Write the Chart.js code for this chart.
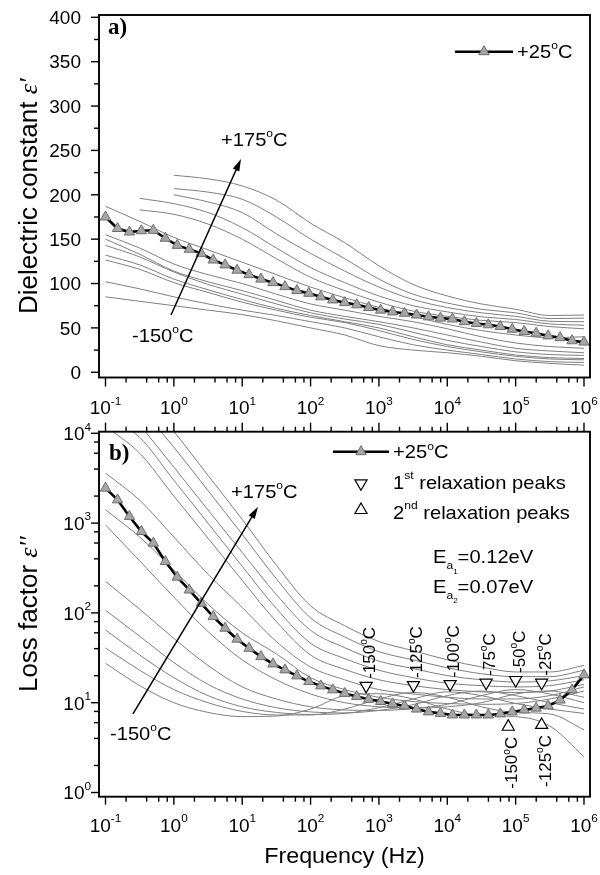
<!DOCTYPE html>
<html>
<head>
<meta charset="utf-8">
<script src="https://cdn.jsdelivr.net/npm/chart.js@4.4.1/dist/chart.umd.min.js"></script>
<style>
  html, body { margin: 0; padding: 0; background: #fff; }
  body { width: 600px; height: 875px; position: relative; overflow: hidden; }
  canvas { position: absolute; left: 0; }
  #c1 { top: 0; }
  #c2 { top: 420px; }
</style>
</head>
<body>
<canvas id="c1" width="600" height="420"></canvas>
<canvas id="c2" width="600" height="455"></canvas>
<script>
const FONT = '"Liberation Sans", Arial, Helvetica, sans-serif';
const SERIF = '"Liberation Serif", "Times New Roman", serif';
const SX = 1.06;

// frequency grid of the thin curves (half decades) and of the +25°C markers
const freqGrid = [0.1, 0.316, 1, 3.16, 10, 31.6, 100, 316, 1000, 3160, 10000, 31600, 100000, 316000, 1000000];
const freqMarkers = [0.1, 0.15, 0.224, 0.335, 0.501, 0.75, 1.12, 1.68, 2.51, 3.76, 5.62, 8.41, 12.6, 18.8, 28.2, 42.2,
  63.1, 94.4, 141, 211, 316, 473, 708, 1059, 1585, 2371, 3548, 5309, 7943, 11885, 17783, 26607, 39811, 59566,
  89125, 133352, 199526, 298538, 446684, 668344, 1000000];

// a) dielectric constant
const epsRe25 = [175, 162, 158, 159.5, 160, 151, 143, 138.6, 134, 126.5, 121, 115, 110, 105, 101, 96.5, 92, 89, 85,
  81.5, 78.5, 76, 73, 70, 68, 66.5, 64.5, 62.5, 61, 60, 57, 55, 53.5, 51.5, 48.5, 46, 44, 41, 39, 35.5, 34];
const epsRe175 = [null, null, 222, 218, 210, 194, 168, 146, 120, 99, 86, 77, 71, 64, 64.5];
const epsRe150 = [null, null, 207, 203, 195, 175, 150, 128, 105, 88, 78, 71, 67, 60.5, 61];
const epsRe125 = [null, null, 200, 192, 180, 156, 134, 114, 96, 82, 73, 67, 63, 57.5, 57];
const epsRe100 = [null, 196, 190, 180, 163, 140, 118, 101, 86, 75, 68, 62.5, 59.5, 54.5, 53];
const epsRe75 = [null, 183, 178, 167, 150, 128, 107, 92, 79, 69, 63, 58.5, 56, 51.5, 49];
const epsRe50 = [187, 170, 152, 138, 124, 110, 96, 84, 73, 63, 54, 47, 42, 39, 40];
const epsRe0 = [155, 140, 122, 110, 100, 88, 77, 70, 63, 57, 49, 40, 33, 29, 27];
const epsReM25 = [150, 133, 114, 102, 92, 81, 70, 63, 57, 50, 42, 34, 27, 24, 22];
const epsReM50 = [143, 130, 113, 99, 88, 77, 67, 60, 54, 45, 36, 29, 23, 20, 19];
const epsReM75 = [132, 121, 105, 93, 82, 72, 64, 57, 50, 40, 31, 25, 19.5, 16.5, 15.5];
const epsReM100 = [126.5, 116, 101, 90, 79, 70, 62, 56, 47, 37, 29, 23, 18, 15, 14];
const epsReM125 = [102, 94, 85, 77, 70, 64, 57, 50, 40, 31, 25, 20, 15, 12, 11];
const epsReM150 = [85, 80, 75, 70, 65, 58, 50, 42, 30, 25, 22, 18, 13, 10, 8];

// b) loss factor
const epsIm25 = [2450, 1815, 1183, 806, 598, 373, 250, 180, 128, 91, 67.5, 51, 40.4, 32.6, 27, 23.2, 19.9, 17.2,
  15.4, 13.9, 12.7, 11.7, 10.9, 10.3, 9.7, 9.2, 8.5, 7.9, 7.6, 7.3, 7.3, 7.3, 7.3, 7.5, 7.9, 8.3, 8.7, 9.2, 10.7, 13.9, 20.4];
const epsImM150 = [27.5, 15.5, 10, 7.8, 7, 7.1, 8.5, 12, 12.6, 11, 8.5, 7.2, 7, 5.5, 2.5];
const epsImM125 = [40.7, 23, 14, 10, 8, 7.3, 7.3, 8.5, 11, 13, 11.5, 9, 7.8, 7.5, 5];
const epsImM100 = [64.6, 34, 19, 12, 9, 7.8, 7.4, 7.6, 8.8, 11, 13.2, 12, 9.8, 8.5, 7.6];
const epsImM75 = [107, 55, 28, 16, 11, 8.8, 7.9, 7.7, 8.2, 9.5, 12, 13.5, 12, 10, 8.5];
const epsImM50 = [224, 110, 52, 26, 15, 11, 9, 8.3, 8.2, 8.6, 9.6, 12, 14, 12.5, 10];
const epsImM25 = [955, 380, 150, 62, 30, 18, 12.5, 10, 9, 8.7, 9, 10, 12.5, 13.5, 11.5];
const epsIm0 = [1410, 700, 300, 125, 60, 35, 19, 14, 11.5, 10.3, 9.8, 9.6, 9.8, 11, 13.5];
const epsIm50 = [3600, 1800, 700, 270, 115, 48, 25, 18, 14, 12.5, 11.5, 11, 11, 12, 15];
const epsIm75 = [12000, 6000, 2000, 680, 230, 80, 34, 23.5, 18, 15.5, 14, 13.2, 13, 13.5, 16];
const epsIm100 = [16000, 9000, 3000, 1000, 330, 112, 46, 31, 23, 19, 16.5, 15.5, 15, 15.5, 18];
const epsIm125 = [null, 12500, 4200, 1400, 470, 160, 64, 41, 29, 24, 20, 18, 17, 17.5, 20];
const epsIm150 = [null, 20000, 7000, 2300, 750, 240, 88, 54, 37, 30, 24.5, 21, 19.5, 19.5, 23];
const epsIm175 = [null, 30000, 10500, 3400, 1100, 340, 120, 72, 48, 38, 30, 25, 22, 22, 26];

// relaxation peaks
const peak1Freq = [650, 3200, 11000, 37000, 100000, 240000];
const peak1Val = [15.4, 15.7, 16.1, 16.7, 17.9, 16.7];
const peak1Temp = ['-150', '-125', '-100', '-75', '-50', '-25'];
const peak2Freq = [78000, 240000];
const peak2Val = [5.4, 5.65];
const peak2Temp = ['-150', '-125'];

// axis ticks
const decades = [-1, 0, 1, 2, 3, 4, 5, 6];
const epsReTicks = [0, 50, 100, 150, 200, 250, 300, 350, 400];
const epsImDecades = [0, 1, 2, 3, 4];

const X_MIN = 0.08033, X_MAX = 1.2241e6;

Chart.defaults.font.family = FONT;

const pts = (xs, ys) => xs.map((x, i) => ({ x, y: ys[i] }));
const gray = ys => ({ data: pts(freqGrid, ys), borderColor: '#7f7f7f', borderWidth: 1, pointRadius: 0, cubicInterpolationMode: 'monotone' });
const main = ys => ({ data: pts(freqMarkers, ys), borderColor: '#000', borderWidth: 2.6, pointStyle: 'triangle', pointRadius: 6,
  pointBackgroundColor: '#a6a6a6', pointBorderColor: '#6e6e6e', pointBorderWidth: 1 });
const peaks = (fs, vs, rot) => ({ data: pts(fs, vs), showLine: false, pointStyle: 'triangle', pointRotation: rot, pointRadius: 7,
  pointBackgroundColor: '#fff', pointBorderColor: '#000', pointBorderWidth: 1.2 });

// text helpers
function rich(ctx, parts, x, y, size, align, sx) {
  sx = sx || SX;
  const fonts = parts.map(p => `${p.style || ''} ${size * (p.s || 1)}px ${p.f || FONT}`);
  const ws = parts.map((p, i) => { ctx.font = fonts[i]; return ctx.measureText(p.t).width * sx; });
  const total = ws.reduce((a, b) => a + b, 0);
  let cx = align === 'center' ? x - total / 2 : align === 'right' ? x - total : x;
  ctx.textAlign = 'left';
  ctx.textBaseline = 'alphabetic';
  parts.forEach((p, i) => {
    ctx.font = fonts[i];
    ctx.save();
    ctx.translate(cx, y + (p.dy || 0) * size);
    ctx.scale(sx, 1);
    ctx.fillText(p.t, 0, 0);
    ctx.restore();
    cx += ws[i];
  });
  return total;
}
function richRot(ctx, parts, x, y, size, align) {
  ctx.save();
  ctx.translate(x, y);
  ctx.rotate(-Math.PI / 2);
  rich(ctx, parts, 0, 0, size, align, 1);
  ctx.restore();
}
const deg = s => [{ t: s }, { t: 'o', s: 0.6, dy: -0.45 }, { t: 'C' }];
const pow10 = e => [{ t: '10' }, { t: e < 0 ? '-' + (-e) : String(e), s: 0.62, dy: -0.5 }];

function seg(ctx, x1, y1, x2, y2) { ctx.beginPath(); ctx.moveTo(x1, y1); ctx.lineTo(x2, y2); ctx.stroke(); }
function tri(ctx, x, y, r, down, fill, stroke, lw) {
  const s = down ? -1 : 1;
  ctx.beginPath();
  ctx.moveTo(x, y - s * r);
  ctx.lineTo(x + 0.866 * r, y + s * r / 2);
  ctx.lineTo(x - 0.866 * r, y + s * r / 2);
  ctx.closePath();
  ctx.fillStyle = fill; ctx.fill();
  ctx.strokeStyle = stroke; ctx.lineWidth = lw; ctx.stroke();
}
function arrow(ctx, x1, y1, x2, y2) {
  const a = Math.atan2(y2 - y1, x2 - x1), L = 12, W = 3.5, c = Math.cos(a), s = Math.sin(a);
  ctx.lineWidth = 1.5;
  seg(ctx, x1, y1, x2 - L * 0.8 * c, y2 - L * 0.8 * s);
  ctx.beginPath();
  ctx.moveTo(x2, y2);
  ctx.lineTo(x2 - L * c + W * s, y2 - L * s - W * c);
  ctx.lineTo(x2 - L * c - W * s, y2 - L * s + W * c);
  ctx.closePath();
  ctx.fill();
}
function xTicks(ctx, xs, yLine, dir, maj, min) {
  decades.forEach(e => [1, 2, 4, 6, 8].forEach(m => {
    if (e === 6 && m > 1) return;
    const px = xs.getPixelForValue(m * Math.pow(10, e));
    seg(ctx, px, yLine, px, yLine + dir * (m === 1 ? maj : min));
  }));
}
function legendMain(ctx, x1, x2, y) {
  ctx.strokeStyle = '#000'; ctx.lineWidth = 2.6;
  seg(ctx, x1, y, x2, y);
  tri(ctx, (x1 + x2) / 2, y, 6, false, '#a6a6a6', '#6e6e6e', 1);
  ctx.fillStyle = '#000'; ctx.strokeStyle = '#000';
}

const decoTop = {
  id: 'decoTop',
  afterDraw(chart) {
    const { ctx, chartArea: a, scales: { x, y } } = chart;
    ctx.save();
    ctx.strokeStyle = '#000'; ctx.fillStyle = '#000';
    ctx.lineWidth = 1.9;
    ctx.strokeRect(a.left, a.top, a.right - a.left, a.bottom - a.top);
    ctx.lineWidth = 1.4;
    xTicks(ctx, x, a.bottom, 1, 9, 5);
    for (let v = 0; v <= 400; v += 25) {
      const py = y.getPixelForValue(v);
      seg(ctx, a.left, py, a.left - (v % 50 ? 5 : 8), py);
    }
    epsReTicks.forEach(v => rich(ctx, [{ t: String(v) }], a.left - 18, y.getPixelForValue(v) + 6.8, 19, 'right', 1));
    decades.forEach(e => rich(ctx, pow10(e), x.getPixelForValue(Math.pow(10, e)), 414, 19, 'center', 1));
    richRot(ctx, [{ t: 'Dielectric constant ' }, { t: "\u03B5'", f: SERIF, style: 'italic' }], 37, (a.top + a.bottom) / 2, 26, 'center');

    rich(ctx, [{ t: 'a)', f: SERIF, style: 'bold' }], 108, 34, 23, 'left', 1);
    legendMain(ctx, 455, 513, 51.7);
    rich(ctx, deg('+25'), 517, 58, 19, 'left');
    rich(ctx, deg('+175'), 221, 146, 19, 'left');
    rich(ctx, deg('-150'), 132, 341.5, 19, 'left');
    arrow(ctx, x.getPixelForValue(0.908), y.getPixelForValue(64.6), x.getPixelForValue(9.6), y.getPixelForValue(240.3));
    ctx.restore();
  }
};

const decoBottom = {
  id: 'decoBottom',
  afterDraw(chart) {
    const { ctx, chartArea: a, scales: { x, y } } = chart;
    ctx.save();
    ctx.strokeStyle = '#000'; ctx.fillStyle = '#000';
    ctx.lineWidth = 1.9;
    ctx.strokeRect(a.left, a.top, a.right - a.left, a.bottom - a.top);
    ctx.lineWidth = 1.4;
    xTicks(ctx, x, a.bottom, 1, 8, 5);
    xTicks(ctx, x, a.top, -1, 9, 5);
    epsImDecades.forEach(e => [1, 2, 4, 6, 8].forEach(m => {
      if (e === 4 && m > 1) return;
      const py = y.getPixelForValue(m * Math.pow(10, e));
      seg(ctx, a.left, py, a.left - (m === 1 ? 8 : 5), py);
    }));
    epsImDecades.forEach(e => rich(ctx, pow10(e), 91, y.getPixelForValue(Math.pow(10, e)) + 6.8, 19, 'right', 1));
    decades.forEach(e => rich(ctx, pow10(e), x.getPixelForValue(Math.pow(10, e)), 411.7, 19, 'center', 1));
    rich(ctx, [{ t: 'Frequency (Hz)' }], (a.left + a.right) / 2, 443, 22, 'center');
    richRot(ctx, [{ t: 'Loss factor ' }, { t: "\u03B5''", f: SERIF, style: 'italic' }], 37, (a.top + a.bottom) / 2, 26, 'center');

    rich(ctx, [{ t: 'b)', f: SERIF, style: 'bold' }], 109, 40, 23, 'left', 1);
    legendMain(ctx, 333, 389, 31.7);
    rich(ctx, deg('+25'), 393, 38.3, 19, 'left');
    tri(ctx, 361, 63.3, 7, true, '#fff', '#000', 1.2);
    ctx.fillStyle = '#000';
    rich(ctx, [{ t: '1' }, { t: 'st', s: 0.6, dy: -0.5 }, { t: ' relaxation peaks' }], 393, 68.5, 19, 'left');
    tri(ctx, 361, 90, 7, false, '#fff', '#000', 1.2);
    ctx.fillStyle = '#000';
    rich(ctx, [{ t: '2' }, { t: 'nd', s: 0.6, dy: -0.5 }, { t: ' relaxation peaks' }], 393, 98.5, 19, 'left');
    rich(ctx, [{ t: 'E' }, { t: 'a', s: 0.6, dy: 0.3 }, { t: '1', s: 0.4, dy: 0.55 }, { t: '=0.12eV' }], 433, 143.3, 19, 'left');
    rich(ctx, [{ t: 'E' }, { t: 'a', s: 0.6, dy: 0.3 }, { t: '2', s: 0.4, dy: 0.55 }, { t: '=0.07eV' }], 433, 173, 19, 'left');
    rich(ctx, deg('+175'), 231, 78, 19, 'left');
    rich(ctx, deg('-150'), 110, 320, 19, 'left');
    arrow(ctx, x.getPixelForValue(0.252), y.getPixelForValue(7.5), x.getPixelForValue(17), y.getPixelForValue(1517));

    peak1Freq.forEach((f, i) => {
      richRot(ctx, deg(peak1Temp[i]), x.getPixelForValue(f) + 9, y.getPixelForValue(peak1Val[i]) - 7, 17, 'left');
    });
    peak2Freq.forEach((f, i) => {
      richRot(ctx, deg(peak2Temp[i]), x.getPixelForValue(f) + 9, y.getPixelForValue(peak2Val[i]) + 10, 17, 'right');
    });
    ctx.restore();
  }
};

function makeChart(id, datasets, yScale, padding, plugin) {
  return new Chart(document.getElementById(id), {
    type: 'line',
    data: { datasets },
    options: {
      responsive: false, animation: false, events: [],
      layout: { padding },
      plugins: { legend: { display: false }, tooltip: { enabled: false } },
      scales: {
        x: { type: 'logarithmic', display: false, min: X_MIN, max: X_MAX },
        y: yScale
      }
    },
    plugins: [plugin]
  });
}

makeChart('c1', [
  main(epsRe25),
  gray(epsRe175), gray(epsRe150), gray(epsRe125), gray(epsRe100), gray(epsRe75), gray(epsRe50),
  gray(epsRe0), gray(epsReM25), gray(epsReM50), gray(epsReM75), gray(epsReM100), gray(epsReM125), gray(epsReM150)
], { type: 'linear', display: false, min: -5.9, max: 402.6 },
  { left: 99, right: 10, top: 15, bottom: 42.5 }, decoTop);

makeChart('c2', [
  peaks(peak1Freq, peak1Val, 180), peaks(peak2Freq, peak2Val, 0),
  main(epsIm25),
  gray(epsImM150), gray(epsImM125), gray(epsImM100), gray(epsImM75), gray(epsImM50), gray(epsImM25),
  gray(epsIm0), gray(epsIm50), gray(epsIm75), gray(epsIm100), gray(epsIm125), gray(epsIm150), gray(epsIm175)
], { type: 'logarithmic', display: false, min: 0.898, max: 10420 },
  { left: 99, right: 10, top: 11.7, bottom: 78.3 }, decoBottom);
</script>
</body>
</html>
